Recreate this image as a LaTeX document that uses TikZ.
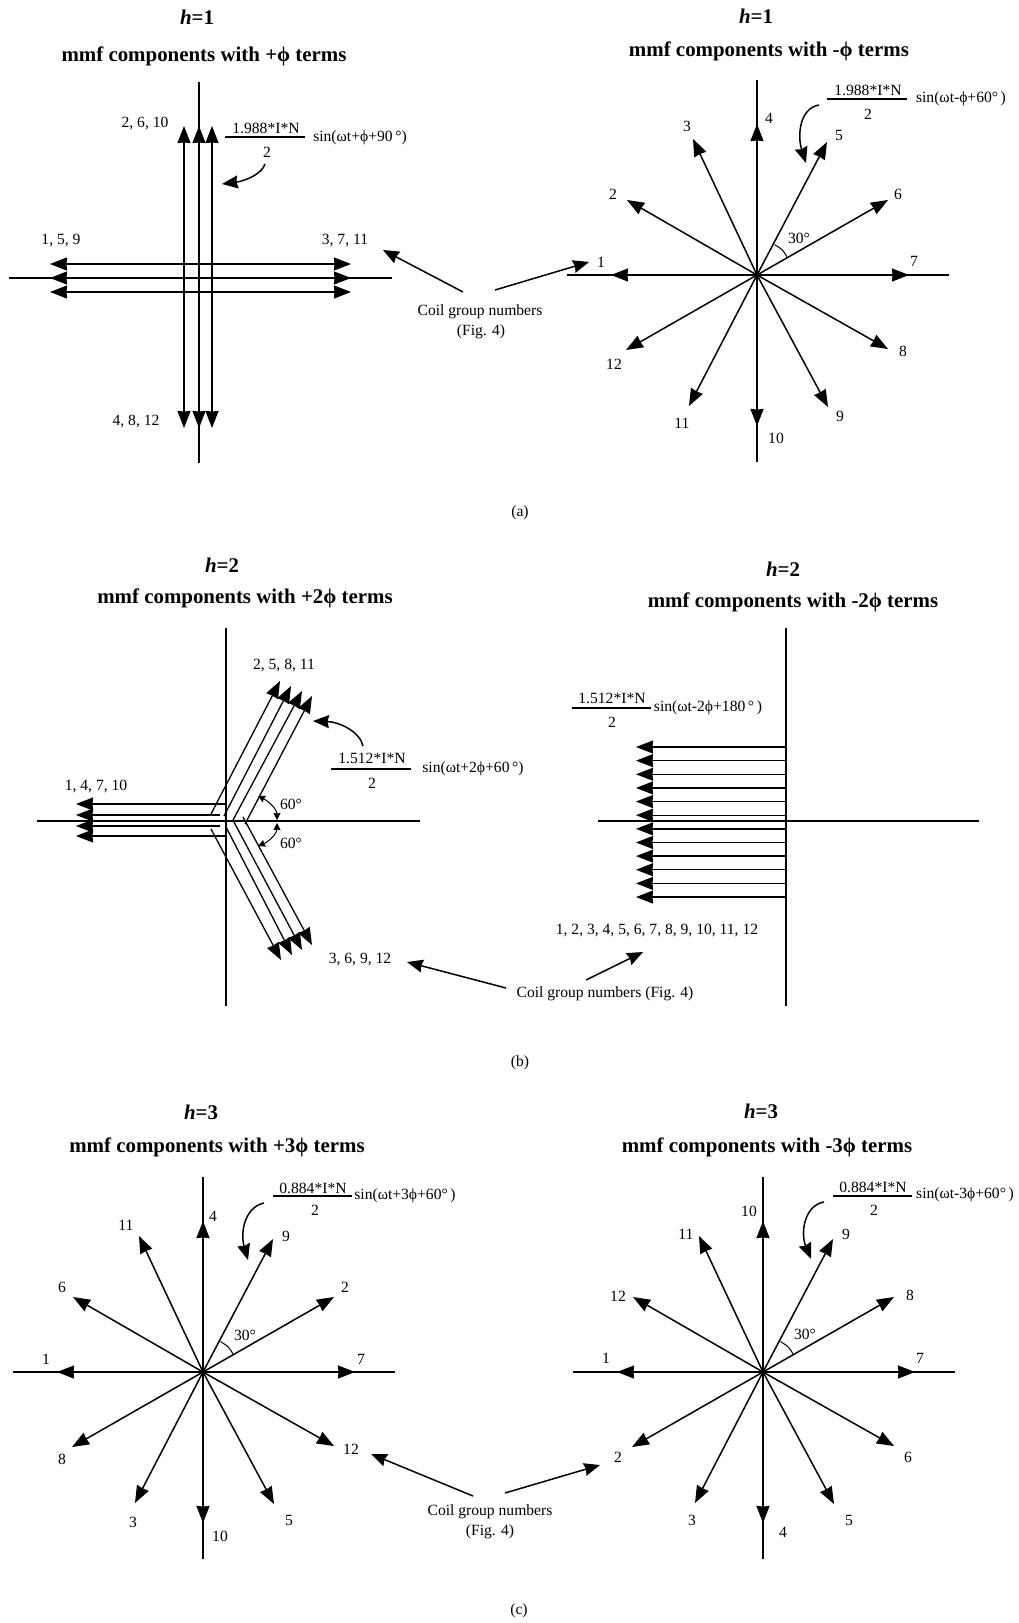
\documentclass[tikz,border=0pt]{standalone}
\usepackage{fontspec}
\setmainfont{Liberation Serif}
\usetikzlibrary{arrows.meta}
\newcommand{\ph}{ϕ}
\newcommand{\hh}[1]{\textit{h}=#1}
\tikzset{
  lbl/.style={inner sep=0pt,yshift=-1.5pt,font=\fontsize{15.6}{18}\selectfont},
  ttl/.style={inner sep=0pt,yshift=-1.5pt,font=\fontsize{20.9}{24}\selectfont\bfseries},
  axis/.style={line width=1.5pt},
  vec/.style={line width=1.5pt,-{Stealth[length=17pt,width=13pt,inset=0.5pt]}},
  band/.style={line width=1.3pt,-{Stealth[length=17pt,width=13pt,inset=0.5pt]}},
  pointer/.style={line width=1.5pt,-{Stealth[length=16pt,width=13pt,inset=1.5pt]}},
  mark60/.style={line width=1pt,{Stealth[length=7pt,width=7pt,inset=0.5pt]}-{Stealth[length=7pt,width=7pt,inset=0.5pt]}},
  rule/.style={line width=1.3pt},
}
% axes and twelve phasors round one centre
\newcommand{\mmfstar}[2]{%
  \begin{scope}[shift={(#1,#2)}]
    \draw[axis] (-190,0) -- (192,0);
    \draw[axis] (0,-195) -- (0,187);
    \foreach \tx/\ty in {152/0,131/-75,70/-133,0/-151,-64/-136,-130/-75,
                         -146/0,-131/75,-68/131,0/151,71/132,131/74}
      \draw[vec] (0,0) -- (\tx,\ty);
    % angle between two neighbours
    \draw[line width=1pt] (17.5,-30.3) .. controls (25.6,-25.6) .. (30.3,-17.5);
  \end{scope}}
\begin{document}
\begin{tikzpicture}[x=1pt,y=-1pt]
  \useasboundingbox (0,0) rectangle (1018,1623);
  % --- (a), left ---
  \node[ttl] (ah1) at (197,16) {\hh{1}};
  \node[ttl] (at1) at (204,55) {mmf components with +\ph\ terms};
  \draw[axis] (199,82) -- (199,463);
  \draw[axis] (9,278) -- (392,278);
  \foreach \xx in {184,199,212} {
    \draw[vec] (\xx,278) -- (\xx,126);
    \draw[vec] (\xx,278) -- (\xx,428);
  }
  \foreach \yy in {264,278,292} {
    \draw[vec] (199,\yy) -- (50,\yy);
    \draw[vec] (199,\yy) -- (351,\yy);
  }
  \node[lbl] (ag1) at (145,122) {2, 6, 10};
  \node[lbl] (ag2) at (61,239) {1, 5, 9};
  \node[lbl] (ag3) at (345,239) {3, 7, 11};
  \node[lbl] (ag4) at (136,420) {4, 8, 12};
  \draw[rule] (225,137) -- (305,137);
  \node[lbl] (an1) at (266,127) {1.988*I*N};
  \node[lbl] (ad1) at (267,151) {2};
  \node[lbl] (as1) at (360,136) {sin(ωt+\ph+90\,°)};
  \coordinate (ac1) at (222,184);
  \draw[pointer] (265,164) .. controls (262,174) and (245,181) .. (ac1);
  % --- (a), right ---
  \node[ttl] (ah2) at (756,15) {\hh{1}};
  \node[ttl] (at2) at (769,50) {mmf components with -\ph\ terms};
  \mmfstar{757}{275}
  \foreach \p/\xx/\yy in {1/601/261,2/613/193,3/687/125,4/769/117,5/839/134,6/898/193,
                          7/914/260,8/903/350,9/840/415,10/776/437,11/682/422,12/614/363}
    \node[lbl] (ar\p) at (\xx,\yy) {\p};
  \node[lbl] (aa2) at (799,237) {30°};
  \draw[rule] (827,99) -- (907,99);
  \node[lbl] (an2) at (868,89) {1.988*I*N};
  \node[lbl] (ad2) at (868,113) {2};
  \node[lbl] (as2) at (961,97) {sin(ωt-\ph+60°\,)};
  \coordinate (ac2) at (806,163);
  \draw[pointer] (819,105) .. controls (800,108) and (797,135) .. (ac2);
  % --- (a), coil numbers ---
  \node[lbl] (acoil) at (480,310) {Coil group numbers};
  \node[lbl] (afig) at (481,330) {(Fig. 4)};
  \coordinate (ap1) at (383,250);
  \coordinate (ap2) at (589,262);
  \draw[pointer] (463,292) -- (ap1);
  \draw[pointer] (495,290) -- (ap2);
  \node[lbl] (acap) at (520,511) {(a)};
  % --- (b), left ---
  \node[ttl] (bh1) at (222,564) {\hh{2}};
  \node[ttl] (bt1) at (245,597) {mmf components with +2\ph\ terms};
  \draw[axis] (226,628) -- (226,1006);
  \draw[axis] (37,821) -- (420,821);
  \foreach \sx/\yy in {227/804,220/815,220/826,226/836}
    \draw[band] (\sx,\yy) -- (76,\yy);
  \draw[band] (211,814) -- (280,681);
  \draw[band] (224,816) -- (291,686);
  \draw[band] (233,820) -- (302,691);
  \draw[band] (245,824) -- (312,696);
  \draw[band] (211,829) -- (281,960);
  \draw[band] (226,827) -- (292,955);
  \draw[band] (234,822) -- (302,950);
  \draw[band] (243,817) -- (312,945);
  \node[lbl] (bg1) at (96,785) {1, 4, 7, 10};
  \node[lbl] (bg2) at (284,664) {2, 5, 8, 11};
  \node[lbl] (bg3) at (360,958) {3, 6, 9, 12};
  \draw[rule] (331,769) -- (411,769);
  \node[lbl] (bn1) at (372,757) {1.512*I*N};
  \node[lbl] (bd1) at (372,782) {2};
  \node[lbl] (bs1) at (473,767) {sin(ωt+2\ph+60\,°)};
  \coordinate (bc1) at (313,721);
  \draw[pointer] (363,746) .. controls (360,732) and (340,722) .. (bc1);
  % the two 60 degree marks
  \draw[mark60] (258,796) .. controls (270,802) and (277,810) .. (277,820);
  \draw[mark60] (277,823) .. controls (277,833) and (270,841) .. (258,846);
  \node[lbl] (ba1) at (291,803) {60°};
  \node[lbl] (ba2) at (291,842) {60°};
  % --- (b), right ---
  \node[ttl] (bh2) at (783,568) {\hh{2}};
  \node[ttl] (bt2) at (793,601) {mmf components with -2\ph\ terms};
  \draw[axis] (786,628) -- (786,1006);
  \draw[axis] (598,821) -- (979,821);
  \foreach \i in {0,...,11}
    \draw[band] (786,747+13.64*\i) -- (636,747+13.64*\i);
  \node[lbl] (bg4) at (657,929) {1, 2, 3, 4, 5, 6, 7, 8, 9, 10, 11, 12};
  \draw[rule] (572,708) -- (651,708);
  \node[lbl] (bn2) at (612,697) {1.512*I*N};
  \node[lbl] (bd2) at (612,721) {2};
  \node[lbl] (bs2) at (708,706) {sin(ωt-2\ph+180\,°\,)};
  % --- (b), coil numbers ---
  \node[lbl] (bcoil) at (605,992) {Coil group numbers (Fig. 4)};
  \coordinate (bp1) at (407,962);
  \coordinate (bp2) at (643,952);
  \draw[pointer] (506,988) -- (bp1);
  \draw[pointer] (586,980) -- (bp2);
  \node[lbl] (bcap) at (520,1061) {(b)};
  % --- (c), left ---
  \node[ttl] (ch1) at (201,1111) {\hh{3}};
  \node[ttl] (ct1) at (217,1146) {mmf components with +3\ph\ terms};
  \mmfstar{203}{1372}
  \foreach \p/\xx/\yy in {1/46/1358,2/345/1286,3/133/1521,4/213/1215,5/289/1519,6/62/1286,
                          7/361/1358,8/62/1458,9/286/1235,10/220/1535,11/126/1224,12/351/1448}
    \node[lbl] (cl\p) at (\xx,\yy) {\p};
  \node[lbl] (ca1) at (245,1334) {30°};
  \draw[rule] (273,1196) -- (352,1196);
  \node[lbl] (cn1) at (313,1187) {0.884*I*N};
  \node[lbl] (cd1) at (315,1209) {2};
  \node[lbl] (cs1) at (405,1194) {sin(ωt+3\ph+60°\,)};
  \coordinate (cc1) at (248,1260);
  \draw[pointer] (264,1203) .. controls (245,1207) and (240,1232) .. (cc1);
  % --- (c), right ---
  \node[ttl] (ch2) at (761,1110) {\hh{3}};
  \node[ttl] (ct2) at (767,1146) {mmf components with -3\ph\ terms};
  \mmfstar{763}{1372}
  \foreach \p/\xx/\yy in {1/606/1357,2/618/1456,3/692/1519,4/783/1531,5/849/1519,6/908/1456,
                          7/920/1357,8/910/1294,9/846/1233,10/749/1210,11/686/1233,12/618/1295}
    \node[lbl] (cr\p) at (\xx,\yy) {\p};
  \node[lbl] (ca2) at (805,1333) {30°};
  \draw[rule] (833,1196) -- (912,1196);
  \node[lbl] (cn2) at (873,1186) {0.884*I*N};
  \node[lbl] (cd2) at (874,1209) {2};
  \node[lbl] (cs2) at (965,1193) {sin(ωt-3\ph+60°\,)};
  \coordinate (cc2) at (811,1259);
  \draw[pointer] (824,1202) .. controls (805,1205) and (800,1232) .. (cc2);
  % --- (c), coil numbers ---
  \node[lbl] (ccoil) at (490,1510) {Coil group numbers};
  \node[lbl] (cfig) at (490,1530) {(Fig. 4)};
  \coordinate (cp1) at (371,1454);
  \coordinate (cp2) at (600,1465);
  \draw[pointer] (473,1496) -- (cp1);
  \draw[pointer] (505,1493) -- (cp2);
  \node[lbl] (ccap) at (519,1609) {(c)};
\end{tikzpicture}
\end{document}
